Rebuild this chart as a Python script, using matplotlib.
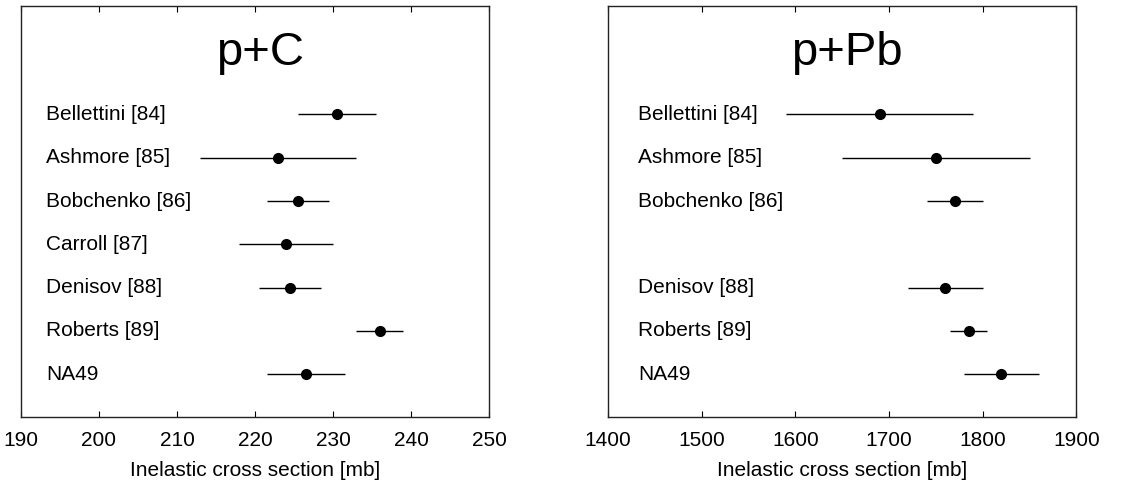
import matplotlib
matplotlib.use('Agg')
from matplotlib import pyplot as plt
from matplotlib import transforms
import numpy as np

plt.rcParams['font.family'] = ['Liberation Sans', 'DejaVu Sans']

# p+C
c_names = ['Bellettini [84]', 'Ashmore [85]', 'Bobchenko [86]', 'Carroll [87]',
           'Denisov [88]', 'Roberts [89]', 'NA49']
c_val = [230.5, 223.0, 225.5, 224.0, 224.5, 236.0, 226.5]
c_err = [5.0, 10.0, 4.0, 6.0, 4.0, 3.0, 5.0]

# p+Pb (no Carroll entry, row left empty)
pb_names = ['Bellettini [84]', 'Ashmore [85]', 'Bobchenko [86]',
            'Denisov [88]', 'Roberts [89]', 'NA49']
pb_rows = [0, 1, 2, 4, 5, 6]
pb_val = [1690, 1750, 1770, 1760, 1785, 1820]
pb_err = [100, 100, 30, 40, 20, 40]

fig = plt.figure(figsize=(11.39, 4.87), dpi=100)
ax1 = fig.add_axes([0.0184, 0.1437, 0.411, 0.8446])
ax2 = fig.add_axes([0.534, 0.1437, 0.411, 0.8446])


def panel(ax, names, rows, val, err, title, xlim, xticks, lab_x):
    y = 7 - np.array(rows)
    ax.errorbar(val, y, xerr=err, fmt='o', color='k', markersize=7,
                elinewidth=1, capsize=0)
    tr = transforms.blended_transform_factory(ax.transAxes, ax.transData)
    for n, yy in zip(names, y):
        ax.text(lab_x, yy, n, transform=tr, fontsize=15, va='center', ha='left')
    ax.text(0.51, 0.856, title, transform=ax.transAxes, fontsize=34,
            ha='center', va='baseline')
    ax.set_xlim(*xlim)
    ax.set_ylim(0.014, 9.51)
    ax.set_xticks(xticks)
    ax.set_yticks([])
    ax.tick_params(axis='x', direction='in', top=True, length=4.5, width=0.8,
                   labelsize=15, pad=10)
    for s in ax.spines.values():
        s.set_linewidth(1)
        s.set_color('#222222')
    ax.set_xlabel('Inelastic cross section [mb]', fontsize=15, labelpad=8)


panel(ax1, c_names, list(range(7)), c_val, c_err, 'p+C', (190, 250),
      np.arange(190, 251, 10), 0.053)
panel(ax2, pb_names, pb_rows, pb_val, pb_err, 'p+Pb', (1400, 1900),
      np.arange(1400, 1901, 100), 0.064)

plt.savefig('out.png', dpi=100)
